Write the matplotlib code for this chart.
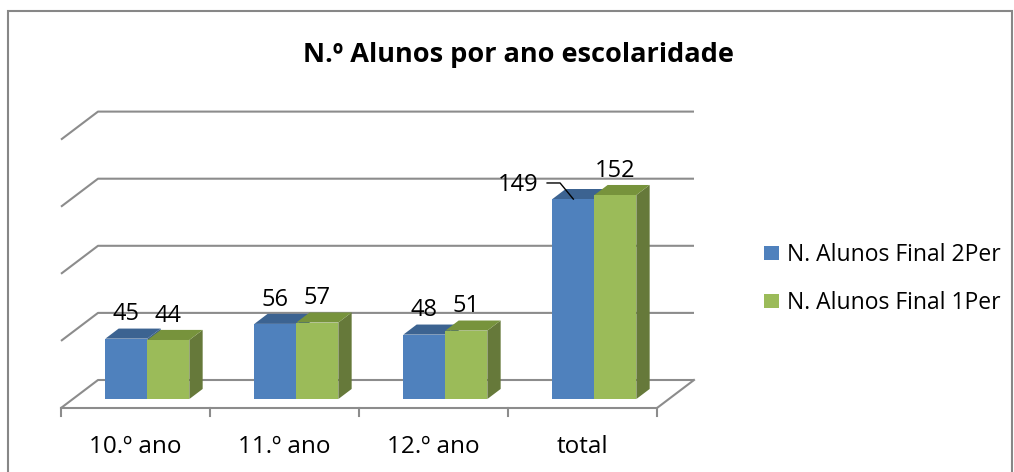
import matplotlib.pyplot as plt
from matplotlib.patches import Polygon, Rectangle, Patch

# data
categories = ['10.º ano', '11.º ano', '12.º ano', 'total']
final_2per = [45, 56, 48, 149]
final_1per = [44, 57, 51, 152]
series_names = ['N. Alunos Final 2Per', 'N. Alunos Final 1Per']
grid_values = [0, 50, 100, 150, 200]

plt.rcParams['font.family'] = ['Open Sans', 'DejaVu Sans']

W, H = 1014, 472
fig = plt.figure(figsize=(W / 100, H / 100), dpi=100)
ax = fig.add_axes([0, 0, 1, 1])
ax.axis('off')

# plot area: data coords = (category, value) on the floor front edge
x0_px, y0_px = 61, 408
px_per_cat, px_per_val = 149, 1.342
ax.set_xlim(-x0_px / px_per_cat, (W - x0_px) / px_per_cat)
ax.set_ylim(-(H - y0_px) / px_per_val, y0_px / px_per_val)

# 3d depth direction (full floor depth) in data units
DX = 37 / px_per_cat
DY = 28 / px_per_val
d_front, d_back = 0.32, 0.68
n = len(categories)
grid_col = '#8c8c8c'
lw = 1.5

# walls / gridlines
for v in grid_values:
    ax.plot([0, DX, n + DX], [v, v + DY, v + DY], color=grid_col, lw=lw,
            solid_capstyle='butt', zorder=1)
# floor front + right edge, ticks
ax.plot([0, n, n + DX], [0, 0, DY], color=grid_col, lw=lw, zorder=1)
tick = 8 / px_per_val
for i in range(n + 1):
    ax.plot([i, i], [0, -tick], color=grid_col, lw=lw, zorder=1)

colors = [
    ('#4f81bd', '#3c6391', '#385d8a'),   # front, top, side
    ('#9bbb59', '#77933c', '#66793a'),
]
w = 42 / px_per_cat
ddx = DX * (d_back - d_front)
ddy = DY * (d_back - d_front)
yb = DY * d_front
label_size = 17

for i in range(n):
    cx = i + 0.5 + DX * d_front
    for s, vals in enumerate([final_2per, final_1per]):
        front_c, top_c, side_c = colors[s]
        xl = cx - w + s * w
        xr = xl + w
        yt = yb + vals[i]
        ax.add_patch(Polygon([(xr, yb), (xr + ddx, yb + ddy), (xr + ddx, yt + ddy), (xr, yt)],
                             closed=True, fc=side_c, ec='none', zorder=2))
        ax.add_patch(Polygon([(xl, yt), (xr, yt), (xr + ddx, yt + ddy), (xl + ddx, yt + ddy)],
                             closed=True, fc=top_c, ec='none', zorder=2))
        ax.add_patch(Polygon([(xl, yb), (xr, yb), (xr, yt), (xl, yt)],
                             closed=True, fc=front_c, ec='none', zorder=2))
        bc = (xl + xr) / 2
        if i == n - 1 and s == 0:
            # label moved aside with a leader line
            ax.text(bc - 0.371, yt + 10.5, str(vals[i]), ha='center', va='center',
                    fontsize=label_size, zorder=4)
            ax.plot([bc - 0.176, bc - 0.089, bc], [yt + 12, yt + 12, yt],
                    color='black', lw=1, zorder=4)
        else:
            ax.text(bc, yt + ddy + 10.5, str(vals[i]), ha='center', va='center',
                    fontsize=label_size, zorder=4)

for i, cat in enumerate(categories):
    ax.text(i + 0.5, -(447 - y0_px) / px_per_val, cat, ha='center', va='center',
            fontsize=17.5)

fig.text(518 / W, 1 - 55 / H, 'N.º Alunos por ano escolaridade', ha='center',
         va='center', fontsize=19.5, fontweight='bold')

handles = [Patch(facecolor=colors[k][0], edgecolor='none', label=series_names[k])
           for k in range(2)]
ax.legend(handles=handles, loc='center left', bbox_to_anchor=(764 / W, 1 - 279 / H),
          bbox_transform=fig.transFigure, frameon=False, fontsize=16.5,
          handlelength=0.65, handleheight=0.61, handletextpad=0.35,
          labelspacing=1.05, borderpad=0, borderaxespad=0)

fig.add_artist(Rectangle((7.5 / W, -0.1), (1012 - 7.5) / W, 1 - 11 / H + 0.1,
                         transform=fig.transFigure, fill=False, ec='#878787', lw=1.5))

fig.savefig('out.png', dpi=100)
